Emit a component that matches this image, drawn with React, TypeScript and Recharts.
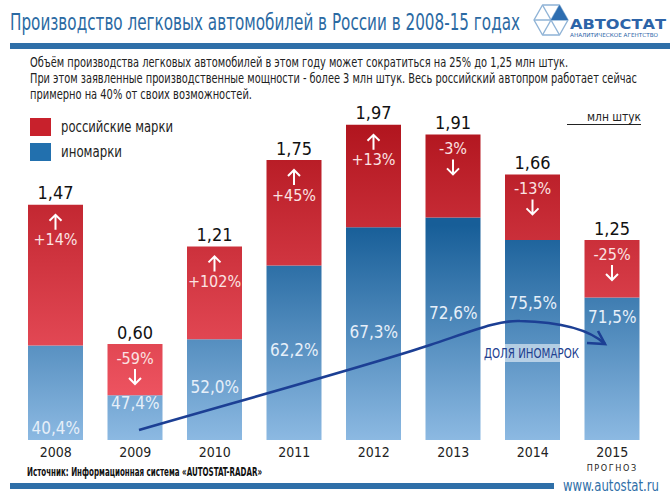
import React from 'react';
import { ComposedChart, Bar, Line, XAxis, YAxis, LabelList } from 'recharts';

const years = ['2008', '2009', '2010', '2011', '2012', '2013', '2014', '2015'];
const totalLabels = ['1,47', '0,60', '1,21', '1,75', '1,97', '1,91', '1,66', '1,25'];
const foreign = [0.59, 0.28, 0.63, 1.09, 1.33, 1.39, 1.25, 0.89];
const russian = [0.88, 0.32, 0.58, 0.66, 0.64, 0.52, 0.41, 0.36];
const foreignShare = [40.4, 47.4, 52.0, 62.2, 67.3, 72.6, 75.5, 71.5];
const shareLabels = ['40,4%', '47,4%', '52,0%', '62,2%', '67,3%', '72,6%', '75,5%', '71,5%'];
const changes = ['+14%', '-59%', '+102%', '+45%', '+13%', '-3%', '-13%', '-25%'];

const data = years.map((year, i) => ({
  year,
  foreign: foreign[i],
  russian: russian[i],
  share: foreignShare[i],
}));

const FONT = "'DejaVu Sans Condensed', 'Roboto Condensed', 'Liberation Sans Narrow', 'Open Sans', sans-serif";
const BLUE = '#2f6fa8';

const RedLabel = (props: any) => {
  const { x, y, width, index } = props;
  const cx = x + width / 2;
  const top = y;
  const ch = changes[index];
  const up = ch.startsWith('+');
  const els: any[] = [];
  els.push(
    <text key="t" x={cx} y={top - 12} textAnchor="middle" dominantBaseline="central" fontSize={18} fill="#111" fontFamily={FONT}>
      {totalLabels[index]}
    </text>
  );
  if (up) {
    els.push(
      <path key="a" d={`M${cx},${top + 25} L${cx},${top + 10} M${cx - 6},${top + 16} L${cx},${top + 10} L${cx + 6},${top + 16}`} stroke="#fff" strokeWidth={2} fill="none" />
    );
    els.push(
      <text key="c" x={cx} y={top + 35} textAnchor="middle" dominantBaseline="central" fontSize={16} fill="#fbe3e3" fontFamily={FONT}>
        {ch}
      </text>
    );
  } else {
    els.push(
      <text key="c" x={cx} y={top + 14} textAnchor="middle" dominantBaseline="central" fontSize={16} fill="#fbe3e3" fontFamily={FONT}>
        {ch}
      </text>
    );
    els.push(
      <path key="a" d={`M${cx},${top + 25} L${cx},${top + 40} M${cx - 6},${top + 34} L${cx},${top + 40} L${cx + 6},${top + 34}`} stroke="#fff" strokeWidth={2} fill="none" />
    );
  }
  return <g>{els}</g>;
};

const ShareLabel = (props: any) => {
  const { x, y, index } = props;
  return (
    <text x={x} y={y} textAnchor="middle" dominantBaseline="central" fontSize={17} fill="#e6eff9" fontFamily={FONT}>
      {shareLabels[index]}
    </text>
  );
};

const YearTick = (props: any) => {
  const { x, y, payload } = props;
  return (
    <g>
      <text x={x} y={y + 9} textAnchor="middle" fontSize={14} fill="#222" fontFamily={FONT}>
        {payload.value}
      </text>
      {payload.value === '2015' && (
        <text x={x} y={y + 23} textAnchor="middle" fontSize={9} letterSpacing={1.6} fill="#222" fontFamily={FONT}>
          ПРОГНОЗ
        </text>
      )}
    </g>
  );
};

export default function App() {
  return (
    <div style={{ position: 'fixed', left: 0, top: 0, width: 670, height: 500, background: '#fff', overflow: 'hidden' }}>
      <ComposedChart
        width={670}
        height={500}
        data={data}
        margin={{ top: 88, right: 18, bottom: 30, left: 16 }}
        barSize={55}
      >
        <defs>
          <linearGradient id="redGrad" gradientUnits="userSpaceOnUse" x1="0" y1="120" x2="0" y2="400">
            <stop offset="0%" stopColor="#b0141d" />
            <stop offset="100%" stopColor="#ee5461" />
          </linearGradient>
          <linearGradient id="blueGrad" gradientUnits="userSpaceOnUse" x1="0" y1="225" x2="0" y2="440">
            <stop offset="0%" stopColor="#175e98" />
            <stop offset="100%" stopColor="#8cb9e2" />
          </linearGradient>
        </defs>
        <XAxis dataKey="year" axisLine={false} tickLine={false} height={30} tick={<YearTick />} interval={0} />
        <YAxis yAxisId="v" hide domain={[0, 2.2]} />
        <YAxis yAxisId="s" hide orientation="right" domain={[37, 136]} />
        <Bar yAxisId="v" dataKey="foreign" stackId="a" fill="url(#blueGrad)" isAnimationActive={false} />
        <Bar yAxisId="v" dataKey="russian" stackId="a" fill="url(#redGrad)" isAnimationActive={false}>
          <LabelList dataKey="russian" content={<RedLabel />} />
        </Bar>
        <Line yAxisId="s" dataKey="share" stroke="none" dot={false} activeDot={false} isAnimationActive={false}>
          <LabelList dataKey="share" content={<ShareLabel />} />
        </Line>
      </ComposedChart>
      <svg width={670} height={500} style={{ position: 'absolute', left: 0, top: 0, pointerEvents: 'none' }}>
        <text x={10} y={30} fontSize={23} fill="#2b6aa3" fontFamily={FONT} textLength={510} lengthAdjust="spacingAndGlyphs">
          Производство легковых автомобилей в России в 2008-15 годах
        </text>
        <rect x={10} y={43} width={660} height={6} fill={BLUE} />
        {/* logo */}
        <g stroke="#8fb3d6" strokeWidth={1.4} fill="none" strokeLinejoin="round">
          <polygon points="534,20 542.5,5 559.5,5 568,20 559.5,35 542.5,35" />
          <line x1={534} y1={20} x2={568} y2={20} />
          <line x1={542.5} y1={5} x2={559.5} y2={35} />
          <line x1={559.5} y1={5} x2={542.5} y2={35} />
        </g>
        <polygon points="551,20 559.5,5 568,20" fill="#2d6db0" />
        <text x={570} y={29} fontSize={14} fontWeight="bold" fill="#2d64a8" fontFamily="'DejaVu Sans', sans-serif" textLength={96} lengthAdjust="spacingAndGlyphs">
          АВТОСТАТ
        </text>
        <text x={570} y={37} fontSize={5.5} fill="#2d64a8" fontFamily="'DejaVu Sans', sans-serif" textLength={88} lengthAdjust="spacingAndGlyphs">
          АНАЛИТИЧЕСКОЕ АГЕНТСТВО
        </text>
        {/* subtitle */}
        <g fontSize={14} fill="#222" fontFamily={FONT}>
          <text x={30} y={67} textLength={538} lengthAdjust="spacingAndGlyphs">
            Объём производства легковых автомобилей в этом году может сократиться на 25%  до 1,25 млн штук.
          </text>
          <text x={30} y={83} textLength={607} lengthAdjust="spacingAndGlyphs">
            При этом заявленные производственные мощности - более 3 млн штук. Весь российский автопром работает сейчас
          </text>
          <text x={30} y={99} textLength={222} lengthAdjust="spacingAndGlyphs">
            примерно на 40% от своих возможностей.
          </text>
        </g>
        {/* legend */}
        <rect x={30} y={118} width={21} height={18} fill="#c8212c" />
        <rect x={30} y={143} width={21} height={18} fill="#2270ae" />
        <text x={61} y={132} fontSize={16} fill="#222" fontFamily={FONT} textLength={112} lengthAdjust="spacingAndGlyphs">
          российские марки
        </text>
        <text x={61} y={157} fontSize={16} fill="#222" fontFamily={FONT} textLength={61} lengthAdjust="spacingAndGlyphs">
          иномарки
        </text>
        <text x={587} y={121} fontSize={13} fill="#222" fontFamily={FONT} textLength={54} lengthAdjust="spacingAndGlyphs">
          млн штук
        </text>
        <line x1={567} y1={124.5} x2={641} y2={124.5} stroke="#222" strokeWidth={1.2} />
        {/* trend arrow */}
        <rect x={482} y={344} width={98} height={18} fill="#fff" opacity={0.55} />
        <path
          d="M139,430 C250,398 380,362 430,345 C475,330 500,320 520,321 C560,322 590,330 605,344"
          stroke="#1c3f94"
          strokeWidth={2.6}
          fill="none"
        />
        <path d="M598,331 L605,344 L587,343" stroke="#1c3f94" strokeWidth={2.6} fill="none" />
        <text x={484} y={358} fontSize={14} fill="#22408f" fontFamily={FONT} textLength={95} lengthAdjust="spacingAndGlyphs">
          ДОЛЯ ИНОМАРОК
        </text>
        {/* footer */}
        <text x={27} y={476} fontSize={12} fontWeight="bold" fill="#111" fontFamily={FONT} textLength={235} lengthAdjust="spacingAndGlyphs">
          Источник: Информационная система «AUTOSTAT-RADAR»
        </text>
        <rect x={10} y={483} width={544} height={6} fill={BLUE} />
        <text x={563} y={491} fontSize={15} fill={BLUE} fontFamily={FONT} textLength={96} lengthAdjust="spacingAndGlyphs">
          www.autostat.ru
        </text>
      </svg>
    </div>
  );
}
